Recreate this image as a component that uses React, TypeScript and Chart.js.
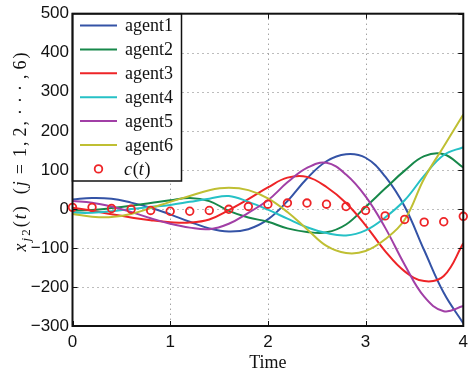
import React, { useEffect, useRef } from "react";
import { Chart, registerables } from "chart.js";

Chart.register(...registerables);

// ---------- data ----------
const TIME = [0, 0.2, 0.4, 0.6, 0.8, 1.0, 1.2, 1.4, 1.6, 1.8, 2.0, 2.2, 2.4, 2.6, 2.8, 3.0, 3.2, 3.4, 3.6, 3.8, 4.0];
const AGENT1 = [24, 28, 26, 16, 3, -14, -33, -50, -58, -52, -27, 20, 78, 122, 140, 131, 83, 6, -106, -215, -293];
const AGENT2 = [-5, -3, 2, 8, 15, 22, 28, 20, -5, -22, -33, -50, -59, -60, -40, 5, 52, 98, 135, 140, 106];
const AGENT3 = [3, -5, -14, -22, -29, -34, -35, -27, -3, 25, 55, 80, 82, 56, 15, -42, -108, -160, -185, -172, -88];
const AGENT4 = [-10, -10, -6, 0, 5, 10, 18, 26, 33, 18, -2, -25, -47, -62, -68, -55, -22, 22, 85, 138, 158];
const AGENT5 = [20, 16, 6, -8, -24, -38, -48, -52, -38, -10, 22, 68, 105, 118, 88, 32, -48, -143, -225, -262, -249];
const AGENT6 = [-13, -20, -21, -13, 2, 18, 33, 48, 54, 48, 27, -8, -52, -95, -113, -108, -78, -28, 78, 160, 242];
const C_T = [4, 4, 1, -1, -4, -6, -6, -4, -1, 6, 12, 15, 15, 12, 6, -4, -18, -27, -34, -33, -19];

const X_TICKS = [0, 1, 2, 3, 4];
const Y_TICKS = [-300, -200, -100, 0, 100, 200, 300, 400, 500];

const SERIES_NAMES = ["agent1", "agent2", "agent3", "agent4", "agent5", "agent6"];
const SERIES_VALUES = [AGENT1, AGENT2, AGENT3, AGENT4, AGENT5, AGENT6];
const SERIES_COLORS = ["#3453a6", "#17884a", "#ee2427", "#26c1c6", "#a13fa6", "#bfbf33"];
const MARKER_COLOR = "#ee2427";

const SERIF = '"Liberation Serif", "DejaVu Serif", serif';
const SANS = '"Liberation Sans", Arial, sans-serif';

const toXY = (vals: number[]) => vals.map((v, i) => ({ x: TIME[i], y: v }));

const overlayPlugin = {
  id: "matlabOverlay",
  beforeDatasetsDraw(chart: any) {
    const { ctx, chartArea, scales } = chart;
    const { left, right, top, bottom } = chartArea;
    ctx.save();
    ctx.strokeStyle = "#7a7a7a";
    ctx.lineWidth = 1;
    ctx.setLineDash([1, 4]);
    X_TICKS.forEach((v) => {
      const px = Math.round(scales.x.getPixelForValue(v)) + 0.5;
      if (px <= left + 2 || px >= right - 2) return;
      ctx.beginPath();
      ctx.moveTo(px, top);
      ctx.lineTo(px, bottom);
      ctx.stroke();
    });
    Y_TICKS.forEach((v) => {
      const py = Math.round(scales.y.getPixelForValue(v)) + 0.5;
      if (py <= top + 2 || py >= bottom - 2) return;
      ctx.beginPath();
      ctx.moveTo(left, py);
      ctx.lineTo(right, py);
      ctx.stroke();
    });
    ctx.restore();
  },
  afterDatasetsDraw(chart: any) {
    const { ctx, chartArea, scales } = chart;
    const { left, right, top, bottom } = chartArea;
    ctx.save();

    // tick marks (inward) on all sides
    ctx.strokeStyle = "#111";
    ctx.lineWidth = 1;
    const TL = 5;
    X_TICKS.forEach((v) => {
      const px = Math.round(scales.x.getPixelForValue(v)) + 0.5;
      ctx.beginPath();
      ctx.moveTo(px, bottom);
      ctx.lineTo(px, bottom - TL);
      ctx.moveTo(px, top);
      ctx.lineTo(px, top + TL);
      ctx.stroke();
    });
    Y_TICKS.forEach((v) => {
      const py = Math.round(scales.y.getPixelForValue(v)) + 0.5;
      ctx.beginPath();
      ctx.moveTo(left, py);
      ctx.lineTo(left + TL, py);
      ctx.moveTo(right, py);
      ctx.lineTo(right - TL, py);
      ctx.stroke();
    });

    // legend box
    const lx0 = left;
    const ly0 = top;
    const lx1 = 181.5;
    const ly1 = 181;
    ctx.fillStyle = "#fff";
    ctx.fillRect(lx0, ly0, lx1 - lx0, ly1 - ly0);
    ctx.strokeStyle = "#111";
    ctx.lineWidth = 1.5;
    ctx.strokeRect(lx0, ly0, lx1 - lx0, ly1 - ly0);

    const rowY = (i: number) => 25.5 + i * 23.9;
    ctx.textBaseline = "middle";
    ctx.textAlign = "left";
    SERIES_NAMES.forEach((name, i) => {
      const y = rowY(i);
      ctx.strokeStyle = SERIES_COLORS[i];
      ctx.lineWidth = 2;
      ctx.beginPath();
      ctx.moveTo(80, y);
      ctx.lineTo(117, y);
      ctx.stroke();
      ctx.fillStyle = "#111";
      ctx.font = `18px ${SERIF}`;
      ctx.fillText(name, 125, y + 1);
    });
    // c(t) entry
    {
      const y = rowY(6);
      ctx.strokeStyle = MARKER_COLOR;
      ctx.lineWidth = 1.8;
      ctx.beginPath();
      ctx.arc(98.5, y, 3.8, 0, Math.PI * 2);
      ctx.stroke();
      ctx.fillStyle = "#111";
      let x = 124;
      const parts: [string, boolean][] = [["c", true], ["(", false], ["t", true], [")", false]];
      parts.forEach(([t, it]) => {
        ctx.font = `${it ? "italic " : ""}18px ${SERIF}`;
        ctx.fillText(t, x, y + 1);
        x += ctx.measureText(t).width + (it ? 0.8 : 0);
      });
    }

    // axes frame
    ctx.strokeStyle = "#111";
    ctx.lineWidth = 2;
    ctx.strokeRect(left, top, right - left, bottom - top);

    // y-axis title, rotated
    const segs: { t: string; it?: boolean; sub?: boolean; gap?: number }[] = [
      { t: "x", it: true },
      { t: "j", it: true, sub: true },
      { t: "2", sub: true },
      { t: "(" },
      { t: "t", it: true },
      { t: ")" },
      { t: "(", gap: 10 },
      { t: "j", it: true },
      { t: "=", gap: 5 },
      { t: "1", gap: 5 },
      { t: "," },
      { t: "2", gap: 3 },
      { t: "," },
      { t: "·", gap: 4 },
      { t: "·", gap: 4 },
      { t: "·", gap: 4 },
      { t: ",", gap: 4 },
      { t: "6", gap: 3 },
      { t: ")" },
    ];
    const fontFor = (s: any) => `${s.it ? "italic " : ""}${s.sub ? 13 : 18}px ${SERIF}`;
    let natural = 0;
    segs.forEach((s) => {
      ctx.font = fontFor(s);
      natural += ctx.measureText(s.t).width + (s.gap || 0);
    });
    const target = 199;
    const extra = (target - natural) / (segs.length - 1);
    ctx.translate(20, 152);
    ctx.rotate(-Math.PI / 2);
    ctx.fillStyle = "#111";
    ctx.textBaseline = "alphabetic";
    let cx = -target / 2;
    segs.forEach((s, i) => {
      ctx.font = fontFor(s);
      cx += (s.gap || 0);
      ctx.fillText(s.t, cx, s.sub ? 10 : 6);
      cx += ctx.measureText(s.t).width + (i < segs.length - 1 ? extra : 0);
    });
    ctx.restore();

    // x-axis title
    ctx.save();
    ctx.fillStyle = "#111";
    ctx.font = `18px ${SERIF}`;
    ctx.textAlign = "center";
    ctx.textBaseline = "middle";
    ctx.fillText("Time", scales.x.getPixelForValue(2), 363);
    ctx.restore();
  },
};

export default function App() {
  const canvasRef = useRef<HTMLCanvasElement | null>(null);

  useEffect(() => {
    document.body.style.margin = "0";
    const canvas = canvasRef.current;
    if (!canvas) return;

    const datasets: any[] = [
      {
        label: "c(t)",
        data: toXY(C_T),
        showLine: false,
        pointStyle: "circle",
        pointRadius: 3.8,
        pointBorderWidth: 1.8,
        pointBorderColor: MARKER_COLOR,
        pointBackgroundColor: "rgba(0,0,0,0)",
        clip: false,
        order: 0,
      },
      ...SERIES_NAMES.map((name, i) => ({
        label: name,
        data: toXY(SERIES_VALUES[i]),
        borderColor: SERIES_COLORS[i],
        borderWidth: 2,
        pointRadius: 0,
        tension: 0.4,
        fill: false,
        order: 6 - i,
      })),
    ];

    const chart = new Chart(canvas, {
      type: "line",
      data: { datasets },
      options: {
        animation: false,
        responsive: false,
        devicePixelRatio: 1,
        layout: { padding: { top: 12, right: 2, left: 0, bottom: 0 } },
        plugins: { legend: { display: false }, tooltip: { enabled: false } },
        scales: {
          x: {
            type: "linear",
            min: 0,
            max: 4,
            afterBuildTicks: (s: any) => {
              s.ticks = X_TICKS.map((v) => ({ value: v }));
            },
            afterFit: (s: any) => {
              s.height = 52;
            },
            grid: { display: false, drawTicks: false },
            border: { display: false },
            ticks: {
              color: "#111",
              padding: 6,
              maxRotation: 0,
              autoSkip: false,
              font: { family: SANS, size: 17 },
              callback: (v: any) => String(v),
            },
          },
          y: {
            type: "linear",
            min: -300,
            max: 500,
            afterBuildTicks: (s: any) => {
              s.ticks = Y_TICKS.map((v) => ({ value: v }));
            },
            afterFit: (s: any) => {
              s.width = 72.5;
            },
            grid: { display: false, drawTicks: false },
            border: { display: false },
            ticks: {
              color: "#111",
              padding: 3.5,
              autoSkip: false,
              font: { family: SANS, size: 17 },
              callback: (v: any) => String(v).replace("-", "\u2212"),
            },
          },
        },
      },
      plugins: [overlayPlugin],
    });

    return () => {
      chart.destroy();
    };
  }, []);

  return (
    <div style={{ width: 474, height: 378, position: "relative", background: "#fff" }}>
      <canvas ref={canvasRef} width={474} height={378} style={{ width: 474, height: 378, display: "block" }} />
    </div>
  );
}
